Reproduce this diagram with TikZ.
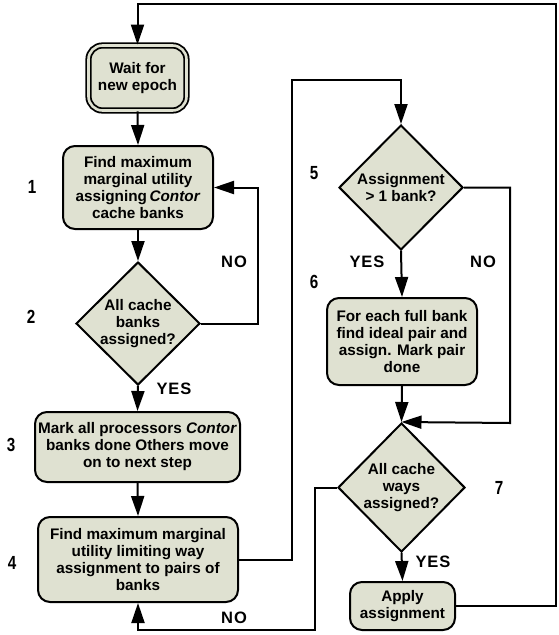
\documentclass[tikz,border=0pt]{standalone}
\usepackage{fontspec}
\setmainfont{Liberation Sans}
\newfontfamily\numfont[FakeStretch=0.8]{Liberation Sans}
\newfontfamily\ynfont[LetterSpace=6]{Liberation Sans}
\usetikzlibrary{shapes.geometric,arrows.meta}
\definecolor{boxfill}{RGB}{223,225,209}
\tikzset{
  flow/.style={line width=2pt, draw=black},
  arr/.style={flow, -{Triangle[length=20pt,width=13pt]}},
  txt/.style={font=\fontsize{15.3}{17}\selectfont\bfseries, align=center, inner sep=0pt},
  procbox/.style={draw=black, line width=2pt, fill=boxfill, rounded corners=12pt,
    minimum width=#1, inner sep=0pt},
  decision/.style={draw=black, line width=2pt, fill=boxfill, shape=diamond,
    inner sep=0pt},
  stepnum/.style={font=\fontsize{19}{19}\selectfont\numfont\bfseries, inner sep=0pt},
  yn/.style={font=\fontsize{16.5}{16.5}\selectfont\ynfont\bfseries, inner sep=0pt},
}
\begin{document}
\begin{tikzpicture}[x=1pt,y=-1pt]
\useasboundingbox (0,0) rectangle (558,635);

% start box with double border
\node[procbox=98pt, minimum height=65pt, double=boxfill, double distance=2.6pt,
      line width=1.8pt, rounded corners=14pt] (wait) at (137.5,78) {};
\node[txt] at (wait) {Wait for\\new epoch};

% left column
\node[procbox=150pt, minimum height=83pt] (b1) at (138,187.5) {};
\node[txt] at (b1) {Find maximum\\marginal utility\\assigning\,\textit{Contor}\\cache banks};

\node[decision, minimum width=124pt, minimum height=123pt] (d2) at (138,323.5) {};
\node[txt] at (d2) {All cache\\banks\\assigned?};

\node[procbox=205pt, minimum height=70pt] (b3) at (137.5,447) {};
\node[txt] at (b3) {Mark all processors \textit{Contor}\\banks done Others move\\on to next step};

\node[procbox=200pt, minimum height=85pt] (b4) at (138,559.5) {};
\node[txt] at (b4) {Find maximum marginal\\utility limiting way\\assignment to pairs of\\banks};

% right column
\node[decision, minimum width=124pt, minimum height=125pt] (d5) at (401,187.5) {};
\node[txt] at (d5) {Assignment\\> 1 bank?};

\node[procbox=150pt, minimum height=87pt] (b6) at (402,341.5) {};
\node[txt] at (b6) {For each full bank\\find ideal pair and\\assign. Mark pair\\done};

\node[decision, minimum width=127pt, minimum height=129pt] (d7) at (401.5,487.5) {};
\node[txt] at (d7) {All cache\\ways\\assigned?};

\node[procbox=105pt, minimum height=48pt] (apply) at (402.5,606) {};
\node[txt] at (apply) {Apply\\assignment};

% routing points
\coordinate (tr) at (556,4);
\coordinate (noA) at (258,323.5);
\coordinate (tl) at (292,80);
\coordinate (noB) at (510,423);
\coordinate (bl) at (315,630);

% connectors
\draw[arr] (apply.east) -| (tr) -| (wait.north);
\draw[arr] (wait.south) -- (b1.north);
\draw[arr] (b1.south) -- (d2.north);
\draw[arr] (d2.east) -- (noA) |- (b1.east);
\draw[arr] (d2.south) -- (b3.north);
\draw[arr] (b3.south) -- (b4.north);
\draw[arr] (b4.east) -| (tl) -| (d5.north);
\draw[arr] (d5.south) -- (b6.north);
\draw[arr] (d5.east) -| (noB) -- (d7.north);
\draw[arr] (b6.south) -- (d7.north);
\draw[arr] (d7.south) -- (apply.north);
\draw[arr] (d7.west) -| (bl) -| (b4.south);

% step numbers
\node[stepnum] (n1) at (32,187) {1};
\node[stepnum] (n2) at (31,317) {2};
\node[stepnum] (n3) at (11,445) {3};
\node[stepnum] (n4) at (12,563) {4};
\node[stepnum] (n5) at (314,173) {5};
\node[stepnum] (n6) at (314,282) {6};
\node[stepnum] (n7) at (499,488) {7};

% branch labels
\node[yn] (l1) at (234,262) {NO};
\node[yn] (l2) at (174,389) {YES};
\node[yn] (l3) at (483,262) {NO};
\node[yn] (l4) at (367,262) {YES};
\node[yn] (l5) at (433,562) {YES};
\node[yn] (l6) at (234,618) {NO};
\end{tikzpicture}
\end{document}
